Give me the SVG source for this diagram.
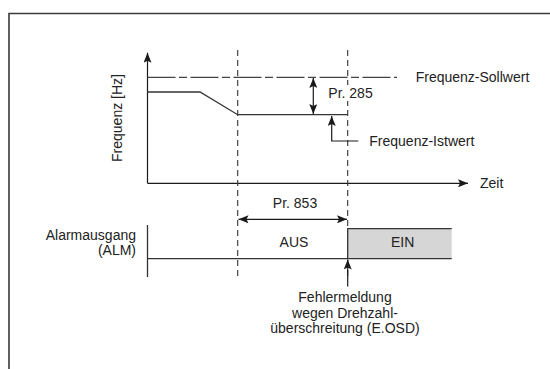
<svg xmlns="http://www.w3.org/2000/svg" width="550" height="369" viewBox="0 0 550 369">
<defs>
<marker id="ah" viewBox="0 0 10 8" refX="10" refY="4" markerWidth="11" markerHeight="8" markerUnits="userSpaceOnUse" orient="auto-start-reverse">
<path d="M0,0 L10,4 L0,8 L2,4 Z" fill="#1a1a1a"/>
</marker>
</defs>
<style>
text{font-family:"Liberation Sans",Arial,sans-serif;font-size:14px;fill:#222}
.ln{stroke:#333;stroke-width:1.3;fill:none}
.dash{stroke:#333;stroke-width:1.1;stroke-dasharray:6 4;fill:none}
.dd{stroke:#444;stroke-width:1.2;stroke-dasharray:28 3.5 8 3.5;fill:none}
.arr{stroke:#1a1a1a;stroke-width:1.2;fill:none}
.mid{text-anchor:middle}
.end{text-anchor:end}
</style>
<rect width="550" height="369" fill="#fff"/>
<g id="frame"><path d="M9,369 V13.5 H550" stroke="#3a3a3a" stroke-width="1.6" fill="none"/></g>

<g id="connectors">
<line class="arr" x1="147.5" y1="183.3" x2="147.5" y2="52.7" marker-end="url(#ah)"/>
<line class="arr" x1="147.5" y1="183.3" x2="468" y2="183.3" marker-end="url(#ah)"/>
<line class="dash" x1="237.7" y1="50" x2="237.7" y2="277"/>
<line class="dash" x1="347.7" y1="50" x2="347.7" y2="277"/>
<line class="dd" x1="147.5" y1="77.3" x2="397" y2="77.3"/>
<polyline class="ln" points="147.5,92 200,92 237.7,114.7 347.7,114.7" stroke-width="1.5"/>
<line class="arr" x1="313.3" y1="78" x2="313.3" y2="114" marker-start="url(#ah)" marker-end="url(#ah)"/>
<polyline class="arr" points="358.3,141 331.7,141 331.7,116" marker-end="url(#ah)"/>
<line class="arr" x1="238.5" y1="219.3" x2="347" y2="219.3" marker-start="url(#ah)" marker-end="url(#ah)"/>
<line class="arr" x1="347.7" y1="286.5" x2="347.7" y2="259.5" marker-end="url(#ah)"/>
</g>

<g id="freq-axis">
<text transform="translate(122,118) rotate(-90)" class="mid">Frequenz [Hz]</text>
<text x="480" y="188">Zeit</text>
</g>
<g id="sollwert"><text x="415.7" y="82.3">Frequenz-Sollwert</text></g>
<g id="istwert"><text x="369.3" y="145.7">Frequenz-Istwert</text></g>
<g id="pr285"><rect x="327" y="85" width="46" height="16" fill="#fff"/><text x="328.3" y="97.7">Pr. 285</text></g>
<g id="pr853"><text x="295" y="208.3" class="mid">Pr. 853</text></g>

<g id="alarm">
<text x="136" y="240" class="end">Alarmausgang</text>
<text x="136" y="255" class="end">(ALM)</text>
<line class="ln" x1="147.5" y1="225" x2="147.5" y2="277"/>
<rect x="347.7" y="228.7" width="104" height="30" fill="#d6d6d6"/>
<polyline class="ln" points="147.5,258.7 451.7,258.7"/>
<polyline class="ln" points="347.7,258.7 347.7,228.7 451.7,228.7"/>
<text x="294" y="246.7" class="mid">AUS</text>
<text x="402.7" y="246.7" class="mid">EIN</text>
</g>

<g id="fehler">
<text x="345" y="302" class="mid">Fehlermeldung</text>
<text x="345" y="317.5" class="mid">wegen Drehzahl-</text>
<text x="345" y="333" class="mid">überschreitung (E.OSD)</text>
</g>
</svg>
